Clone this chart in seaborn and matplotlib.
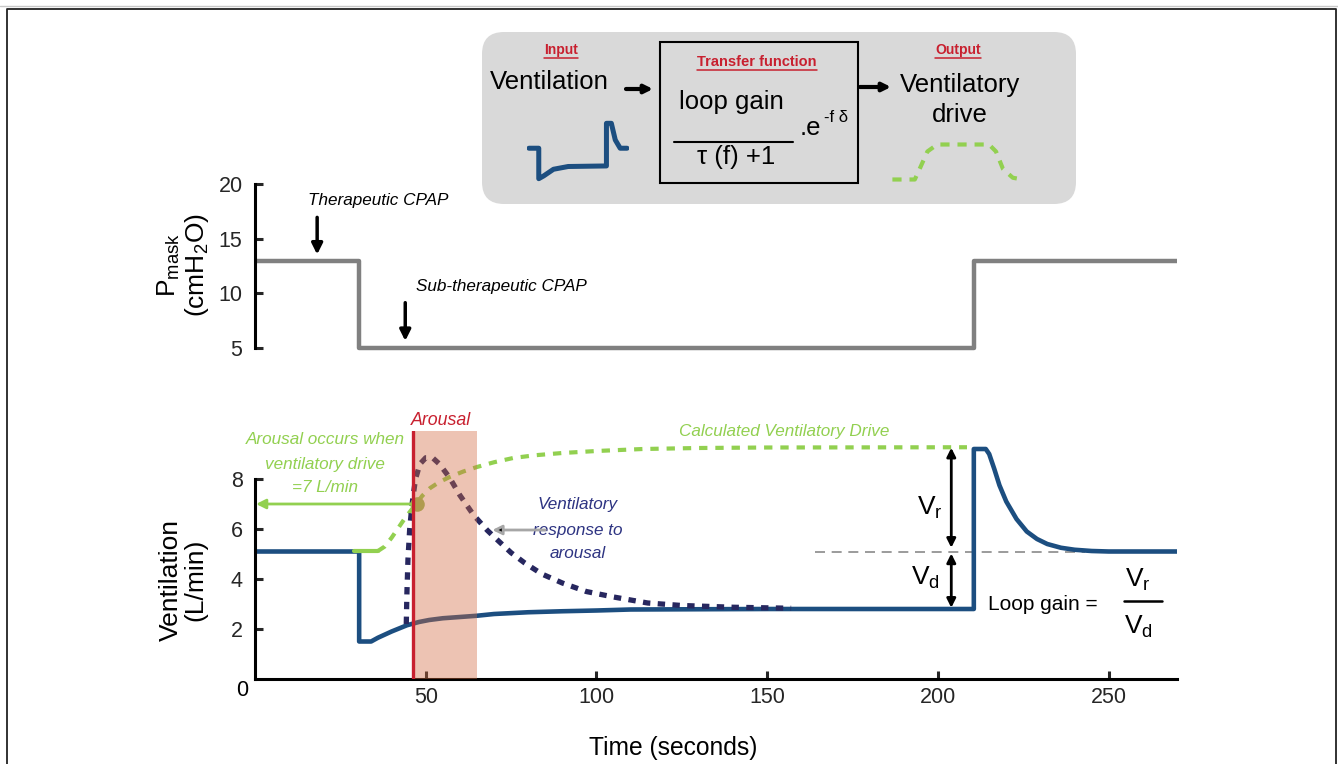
import matplotlib
matplotlib.use("Agg")
import matplotlib.pyplot as plt
import seaborn as sns
from matplotlib.patches import FancyBboxPatch, Rectangle

# === data ===
pmask_t = [0, 30.5, 30.5, 210.5, 210.5, 270]
pmask_v = [13, 13, 5, 5, 13, 13]

vent_t = [0, 30.5, 30.5, 34, 36, 40, 44.5, 48, 51, 55, 60, 65, 70, 80, 90, 100, 110, 150, 180,
          210.5, 210.5, 214, 215, 216.5, 218, 220, 223, 226, 229, 232, 236, 240, 245, 250, 270]
vent_v = [5.1, 5.1, 1.5, 1.5, 1.65, 1.9, 2.15, 2.28, 2.36, 2.43, 2.48, 2.53, 2.6, 2.67, 2.71, 2.74, 2.78, 2.8, 2.8,
          2.8, 9.2, 9.2, 9.0, 8.4, 7.75, 7.1, 6.4, 5.9, 5.6, 5.4, 5.25, 5.17, 5.12, 5.1, 5.1]

drive_flat_t = [29, 36]
drive_flat_v = [5.12, 5.12]
drive_t = [36, 38, 40, 42, 44, 46, 47.3, 49, 51.3, 54, 57, 61, 65, 70, 75.6, 82, 90, 100, 113.6, 130, 150, 208.5]
drive_v = [5.12, 5.3, 5.65, 6.05, 6.45, 6.8, 7.02, 7.33, 7.64, 7.88, 8.08, 8.3, 8.48, 8.67, 8.84, 8.95, 9.04,
           9.12, 9.2, 9.24, 9.26, 9.27]

resp_t = [44.3, 44.5, 44.8, 45.3, 46.0, 47.0, 48.3, 50, 52, 54, 57, 60, 64, 68, 71, 75, 79, 84, 90, 97,
          105, 115, 125, 140, 157]
resp_v = [2.2, 3.5, 4.8, 6.0, 7.0, 8.0, 8.6, 8.85, 8.85, 8.6, 8.05, 7.35, 6.56, 5.95, 5.56, 5.05, 4.64, 4.2,
          3.84, 3.5, 3.28, 3.04, 2.94, 2.87, 2.83]

arousal_t = 46.3
arousal_end = 65
arousal_drive = 7.0
baseline_t = [164, 243]
baseline_v = [5.1, 5.1]
vr_t = 203.9
vd_low = 2.85
vr_top = 9.25

green_note = ["Arousal occurs when", "ventilatory drive", "=7 L/min"]
navy_note = ["Ventilatory", "response to", "arousal"]

icon_vent_x = [0, 1, 1, 1.5, 2.5, 4, 7.9, 7.9, 8.4, 8.8, 9.3, 10]
icon_vent_y = [0.55, 0.55, 0.0, 0.05, 0.17, 0.22, 0.23, 1.0, 1.0, 0.7, 0.55, 0.55]
icon_drive_x = [0, 1.6, 2.0, 2.5, 3.2, 6.9, 7.4, 7.9, 8.6, 9.3]
icon_drive_y = [0, 0, 0.35, 0.8, 1, 1, 0.8, 0.3, 0.05, 0]

# === colours / fonts ===
BLUE = "#1c4e80"
NAVY = "#27275f"
GREEN = "#92d050"
RED = "#c8202f"
GRAY = "#808080"

sns.set_theme(style="white")
plt.rcParams["font.family"] = ["Liberation Sans", "DejaVu Sans"]
plt.rcParams["mathtext.fontset"] = "custom"
plt.rcParams["mathtext.rm"] = "Liberation Sans"
plt.rcParams["mathtext.it"] = "Liberation Sans:italic"
plt.rcParams["text.color"] = "black"

TICK = 15.5   # tick labels
NOTE = 12.3   # italic annotations
BIG = 18.5    # box text

W, H = 1338, 764
fig = plt.figure(figsize=(W / 100, H / 100), dpi=100)

# overlay in pixel coordinates (y down)
ov = fig.add_axes([0, 0, 1, 1], zorder=0)
ov.set_xlim(0, W)
ov.set_ylim(H, 0)
ov.axis("off")


def pix_axes(x0, y0, x1, y1, **kw):
    return fig.add_axes([x0 / W, 1 - y1 / H, (x1 - x0) / W, (y1 - y0) / H], **kw)


# figure frame
ov.plot([0, W], [6, 6], color="#c8c8c8", lw=1)
ov.plot([7, 7, 1336, 1336], [H, 9, 9, H], color="#222222", lw=1.3)

# === top panel: mask pressure ===
ax1 = pix_axes(255, 178.5, 1177, 353.5, zorder=1)
ax1.patch.set_alpha(0)
sns.lineplot(x=pmask_t, y=pmask_v, ax=ax1, color=GRAY, lw=3.2, estimator=None, sort=False)
ax1.set_xlim(0, 270)
ax1.set_ylim(4.5, 20.5)
for s in ["top", "right", "bottom"]:
    ax1.spines[s].set_visible(False)
ax1.spines["left"].set_bounds(5, 20)
ax1.spines["left"].set_linewidth(2.2)
ax1.spines["left"].set_color("black")
ax1.set_yticks([5, 10, 15, 20])
ax1.set_xticks([])
ax1.tick_params(axis="y", direction="in", length=6, width=2.2, labelsize=TICK, pad=9, left=True)
ax1.set_xlabel("")
ax1.set_ylabel("")

ax1.text(15.5, 18.5, "Therapeutic CPAP", style="italic", fontsize=NOTE, ha="left", va="center")
ax1.annotate("", xy=(18.2, 13.3), xytext=(18.2, 17.2),
             arrowprops=dict(arrowstyle="-|>", color="black", lw=2.5, mutation_scale=16))
ax1.text(47.2, 10.6, "Sub-therapeutic CPAP", style="italic", fontsize=NOTE, ha="left", va="center")
ax1.annotate("", xy=(44, 5.4), xytext=(44, 9.4),
             arrowprops=dict(arrowstyle="-|>", color="black", lw=2.5, mutation_scale=16))

# === bottom panel: ventilation ===
ax2 = pix_axes(255, 431, 1177, 679, zorder=1)
ax2.patch.set_alpha(0)
ax2.set_xlim(0, 270)
ax2.set_ylim(0, 9.92)

sns.lineplot(x=vent_t, y=vent_v, ax=ax2, color=BLUE, lw=3.3, estimator=None, sort=False, zorder=2)
sns.lineplot(x=drive_flat_t, y=drive_flat_v, ax=ax2, color=GREEN, lw=3, estimator=None, sort=False, zorder=2)
sns.lineplot(x=drive_t, y=drive_v, ax=ax2, color=GREEN, lw=3, estimator=None, sort=False, zorder=2,
             linestyle=(0, (2.0, 1.9)))
sns.lineplot(x=resp_t, y=resp_v, ax=ax2, color=NAVY, lw=3.8, estimator=None, sort=False, zorder=2,
             linestyle=(0, (1.4, 1.4)))
sns.lineplot(x=baseline_t, y=baseline_v, ax=ax2, color="#8a8a8a", lw=1.2, estimator=None, sort=False,
             zorder=1, linestyle=(0, (6, 4)))
ax2.scatter([arousal_t + 1.0], [arousal_drive], s=110, color="#9bbb59", zorder=2, lw=0)
ax2.axvspan(arousal_t, arousal_end, color="#d26b41", alpha=0.4, lw=0, zorder=3)
ax2.axvline(arousal_t, color=RED, lw=2.4, zorder=4)

for s in ["top", "right"]:
    ax2.spines[s].set_visible(False)
for s in ["left", "bottom"]:
    ax2.spines[s].set_linewidth(2.2)
    ax2.spines[s].set_color("black")
ax2.spines["left"].set_bounds(0, 8)
ax2.set_yticks([2, 4, 6, 8])
ax2.set_xticks([50, 100, 150, 200, 250])
ax2.tick_params(axis="both", direction="in", length=6, width=2.2, labelsize=TICK, left=True, bottom=True)
ax2.tick_params(axis="y", pad=9)
ax2.tick_params(axis="x", pad=6)
ax2.set_xlabel("")
ax2.set_ylabel("")
ax2.annotate("0", xy=(0, 0), xytext=(-9.5, -8), textcoords="offset points", ha="center", va="center",
             fontsize=TICK)

# annotations
ax2.text(54.5, 10.35, "Arousal", color=RED, style="italic", fontsize=NOTE + 0.5, ha="center", va="center",
         clip_on=False)
for line, v in zip(green_note, [9.56, 8.6, 7.64]):
    ax2.text(20.5, v, line, color=GREEN, style="italic", fontsize=NOTE, ha="center", va="center")
ax2.annotate("", xy=(0.3, arousal_drive), xytext=(arousal_t, arousal_drive),
             arrowprops=dict(arrowstyle="-|>", color=GREEN, lw=2, mutation_scale=14, shrinkA=0, shrinkB=0))
ax2.text(155, 9.88, "Calculated Ventilatory Drive", color=GREEN, style="italic", fontsize=NOTE,
         ha="center", va="center", clip_on=False)
for line, v in zip(navy_note, [6.96, 5.96, 5.04]):
    ax2.text(94.6, v, line, color="#2e3482", style="italic", fontsize=NOTE, ha="center", va="center")
ax2.annotate("", xy=(69.5, 5.96), xytext=(85, 5.96),
             arrowprops=dict(arrowstyle="-|>", fc="black", ec="#a6a6a6", lw=2, mutation_scale=14,
                             shrinkA=0, shrinkB=0))
ax2.annotate("", xy=(vr_t, vr_top), xytext=(vr_t, 5.25),
             arrowprops=dict(arrowstyle="<|-|>", color="black", lw=2, mutation_scale=13, shrinkA=0, shrinkB=0))
ax2.annotate("", xy=(vr_t, 5.02), xytext=(vr_t, vd_low),
             arrowprops=dict(arrowstyle="<|-|>", color="black", lw=2, mutation_scale=13, shrinkA=0, shrinkB=0))
ax2.text(197.7, 6.84, r"V$_{\mathrm{r}}$", fontsize=19, ha="center", va="center")
ax2.text(196.2, 4.04, r"V$_{\mathrm{d}}$", fontsize=19, ha="center", va="center")
ax2.text(230.8, 3.0, "Loop gain =", fontsize=15, ha="center", va="center")
ax2.text(258.6, 3.96, r"V$_{\mathrm{r}}$", fontsize=19, ha="center", va="center")
ax2.plot([254.5, 265.5], [3.12, 3.12], color="black", lw=1.8)
ax2.text(258.6, 2.1, r"V$_{\mathrm{d}}$", fontsize=19, ha="center", va="center")

# axis titles
ov.text(183, 265, "P$_{\\mathrm{mask}}$\n(cmH$_{\\mathrm{2}}$O)", rotation=90, ha="center", va="center",
        fontsize=19, multialignment="center", linespacing=1.05)
ov.text(183, 580, "Ventilation\n(L/min)", rotation=90, ha="center", va="center",
        fontsize=19, multialignment="center", linespacing=1.05)
ov.text(673, 748, "Time (seconds)", ha="center", va="center", fontsize=17.7)

# === model box ===
ov.add_patch(FancyBboxPatch((482, 32), 594, 172, boxstyle="round,pad=0,rounding_size=22",
                            fc="#d9d9d9", ec="none"))
ov.add_patch(Rectangle((660, 42), 198, 141, fc="#d9d9d9", ec="black", lw=1.5))

t_in = ov.text(561, 50, "Input", color=RED, fontweight="bold", fontsize=10, ha="center", va="center")
t_tf = ov.text(757, 62, "Transfer function", color=RED, fontweight="bold", fontsize=10.5,
               ha="center", va="center")
t_out = ov.text(958, 50, "Output", color=RED, fontweight="bold", fontsize=10, ha="center", va="center")
ov.text(549, 82, "Ventilation", fontsize=BIG, ha="center", va="center")
ov.text(960, 100, "Ventilatory\ndrive", fontsize=BIG, ha="center", va="center", linespacing=1.35)
ov.text(731, 102, "loop gain", fontsize=BIG, ha="center", va="center")
ov.plot([674, 793], [142, 142], color="black", lw=1.5)
ov.text(736, 157, "\u03c4 (f) +1", fontsize=BIG, ha="center", va="center")
ov.text(800, 128, ".e", fontsize=BIG, ha="left", va="center")
ov.text(824, 117, "-f \u03b4", fontsize=12, ha="left", va="center")
for xa, xb, yy in [(626, 653, 89), (860, 891, 87)]:
    ov.annotate("", xy=(xb, yy), xytext=(xa, yy),
                arrowprops=dict(arrowstyle="-|>", color="black", lw=3, mutation_scale=12, shrinkA=0, shrinkB=0))

rend = fig.canvas.get_renderer()
inv = ov.transData.inverted()
for t in [t_in, t_tf, t_out]:
    bb = t.get_window_extent(renderer=rend)
    (x0, y0), (x1, _) = inv.transform([[bb.x0, bb.y0], [bb.x1, bb.y1]])
    ov.plot([x0, x1], [y0 + 0.5, y0 + 0.5], color=RED, lw=1.1)

ic1 = pix_axes(527, 120, 629, 182, zorder=2)
sns.lineplot(x=icon_vent_x, y=icon_vent_y, ax=ic1, color=BLUE, lw=3.6, estimator=None, sort=False)
ic1.set_xlim(-0.2, 10.2)
ic1.set_ylim(-0.06, 1.06)
ic1.axis("off")

ic2 = pix_axes(891, 141, 1024, 183, zorder=2)
sns.lineplot(x=icon_drive_x, y=icon_drive_y, ax=ic2, color=GREEN, lw=3, estimator=None, sort=False,
             linestyle=(0, (2.2, 1.9)))
ic2.set_xlim(-0.1, 9.4)
ic2.set_ylim(-0.1, 1.1)
ic2.axis("off")

fig.savefig("out.png", dpi=100)
